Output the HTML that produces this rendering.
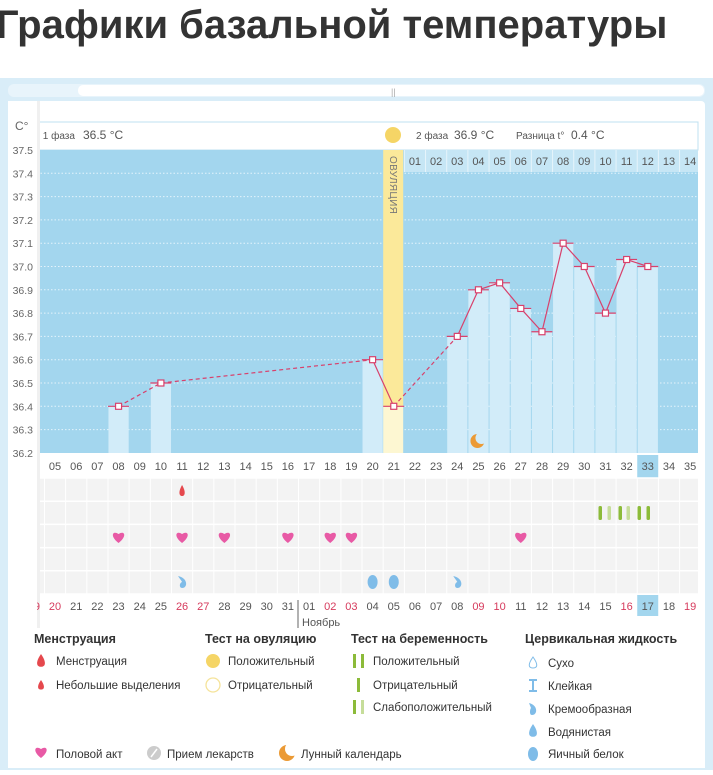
<!DOCTYPE html>
<html><head><meta charset="utf-8"><style>
body{margin:0;width:713px;height:770px;overflow:hidden;background:#fff;font-family:"Liberation Sans","DejaVu Sans",sans-serif;}
</style></head><body>
<svg width="713" height="770" xmlns="http://www.w3.org/2000/svg" font-family="Liberation Sans, DejaVu Sans, sans-serif">
<text x="-4" y="38" font-size="40" font-weight="bold" fill="#333">Графики базальной температуры</text>
<rect x="0" y="78" width="713" height="692" fill="#d9edf8"/>
<rect x="8" y="84" width="697" height="13" rx="6" fill="#e8f4fb"/>
<rect x="78" y="85" width="626" height="11" rx="5" fill="#fff"/>
<text x="391" y="95" font-size="9" fill="#aaa">||</text>
<rect x="8" y="101" width="697" height="666" rx="4" fill="#fff"/>
<rect x="37" y="122" width="661" height="28" fill="#fff" stroke="#bfe0f0"/>
<text x="36" y="139" font-size="10" fill="#555">° 1 фаза</text>
<text x="83" y="139" font-size="12" fill="#555">36.5 °C</text>
<text x="416" y="139" font-size="10" fill="#555">2 фаза</text>
<text x="454" y="139" font-size="12" fill="#555">36.9 °C</text>
<text x="516" y="139" font-size="10" fill="#555">Разница t°</text>
<text x="571" y="139" font-size="12" fill="#555">0.4 °C</text>
<circle cx="393" cy="135" r="8" fill="#f5d566"/>
<rect x="37" y="150" width="661" height="303" fill="#a3d6ee"/>
<rect x="404" y="150" width="294" height="22" fill="#c6e6f5"/>
</svg>
<script>
const s=document.querySelector('svg');const NS='http://www.w3.org/2000/svg';
function el(t,a,txt){const e=document.createElementNS(NS,t);for(const k in a)e.setAttribute(k,a[k]);if(txt!==undefined)e.textContent=txt;s.appendChild(e);return e;}
const L=d=>446.7-(24-d)*21.17, C=d=>L(d)+10.58, Y=v=>150+(37.5-v)*233;
for(let i=1;i<13;i++){el('line',{x1:37,x2:698,y1:150+i*23.3,y2:150+i*23.3,stroke:'#e4f3fb','stroke-dasharray':'1.5 2','stroke-width':1});}
for(let d=22;d<=35;d++){el('line',{x1:L(d),x2:L(d),y1:150,y2:172,stroke:'#e6f4fb'});el('text',{x:C(d),y:165,'font-size':11,'text-anchor':'middle',fill:'#555'},String(d-21).padStart(2,'0'));}
const data={8:36.4,10:36.5,20:36.6,21:36.4,24:36.7,25:36.9,26:36.93,27:36.82,28:36.72,29:37.1,30:37.0,31:36.8,32:37.03,33:37.0};
for(const d in data){if(d==21)continue;el('rect',{x:L(+d)+0.5,y:Y(data[d]),width:20.2,height:453-Y(data[d]),fill:'#d2ecf9'});}
el('rect',{x:L(21),y:150,width:20,height:Y(36.4)-150,fill:'#fbe99a'});
el('rect',{x:L(21),y:Y(36.4),width:20,height:453-Y(36.4),fill:'#fdf7d2'});
el('text',{x:0,y:0,'font-size':10,fill:'#777',transform:`translate(${C(21)-4},156) rotate(90)`,'letter-spacing':'0.3'},'ОВУЛЯЦИЯ');
const ds=Object.keys(data).map(Number);
for(let i=0;i<ds.length-1;i++){const a=ds[i],b=ds[i+1];el('line',{x1:C(a),y1:Y(data[a]),x2:C(b),y2:Y(data[b]),stroke:'#d8416c','stroke-width':1.2,'stroke-dasharray':b-a>1?'4 3':''});}
for(const d of ds){el('line',{x1:L(d),x2:L(d)+21,y1:Y(data[d]),y2:Y(data[d]),stroke:'#d8416c','stroke-width':1.2});el('rect',{x:C(d)-3,y:Y(data[d])-3,width:6,height:6,fill:'#fff',stroke:'#d8416c','stroke-width':1.2});}
el('circle',{cx:C(25)-1,cy:441,r:7,fill:'#eb9a35'});el('circle',{cx:C(25)+3,cy:438,r:6,fill:'#d2ecf9'});
el('rect',{x:L(33),y:455,width:21,height:23,fill:'#a3d6ee'});
for(let d=4;d<=35;d++){el('text',{x:C(d),y:470,'font-size':11,'text-anchor':'middle',fill:'#555'},String(d).padStart(2,'0'));}
el('rect',{x:8,y:101,width:29,height:528,fill:'#fff'});
el('rect',{x:37,y:101,width:3,height:528,fill:'#f0f0f0'});
el('text',{x:15,y:130,'font-size':12,fill:'#666'},'C°');
for(let i=0;i<=13;i++){el('text',{x:33,y:150+i*23.3+4,'font-size':10.5,'text-anchor':'end',fill:'#666'},(37.5-i/10).toFixed(1));}
el('rect',{x:40,y:478,width:658,height:116,fill:'#f3f3f3'});
for(let d=5;d<=35;d++)el('line',{x1:L(d),x2:L(d),y1:478,y2:594,stroke:'#fff','stroke-width':1});
for(let r=0;r<=5;r++)el('line',{x1:40,x2:698,y1:478+r*23.2,y2:478+r*23.2,stroke:'#fff','stroke-width':1.5});
function heart(x,y,c){el('path',{d:`M${x} ${y+6} C${x-9} ${y-1} ${x-6} ${y-7} ${x} ${y-3} C${x+6} ${y-7} ${x+9} ${y-1} ${x} ${y+6}Z`,fill:c});}
for(const d of [8,11,13,16,18,19,27])heart(C(d),537,'#e85aa5');
el('path',{d:`M${C(11)} 485 C${C(11)-4} 492 ${C(11)-3} 496 ${C(11)} 496 C${C(11)+3} 496 ${C(11)+4} 492 ${C(11)} 485Z`,fill:'#e5484d'});
const pt=[[600,'#8cbb3a'],[609,'#c6dd9a'],[620,'#8cbb3a'],[628,'#c6dd9a'],[639,'#8cbb3a'],[648,'#8cbb3a']];
for(const [x,c] of pt)el('rect',{x:x-1.5,y:506,width:3.5,height:14,rx:1.5,fill:c});
for(const d of [20,21])el('ellipse',{cx:C(d),cy:582,rx:5,ry:7,fill:'#7fbce8'});
for(const d of [11,24]){el('path',{d:`M${C(d)-4} 576 C${C(d)+6} 578 ${C(d)+6} 588 ${C(d)} 588 C${C(d)-3} 588 ${C(d)-3} 583 ${C(d)} 582 C${C(d)-1} 580 ${C(d)-3} 578 ${C(d)-4} 576Z`,fill:'#7fbce8'});}
el('rect',{x:L(33),y:595,width:21,height:21,fill:'#a3d6ee'});
const red=new Set([19,20,26,27,2,3,9,10,16]);
for(let d=4;d<=35;d++){let n=d<=16?d+15:d-16;el('text',{x:C(d),y:610,'font-size':11,'text-anchor':'middle',fill:red.has(n)&&!(d==33)?'#d63a5c':'#555'},String(n).padStart(2,'0'));}
el('line',{x1:298,x2:298,y1:600,y2:628,stroke:'#666'});
el('text',{x:302,y:626,'font-size':11,fill:'#555'},'Ноябрь');
el('rect',{x:8,y:595,width:29,height:34,fill:'#fff'});
el('rect',{x:8,y:628,width:697,height:140,fill:'#fff'});
const T=(x,y,t,b)=>el('text',{x,y,'font-size':b?12.5:11.5,'font-weight':b?'bold':'normal',fill:'#333'},t);
T(34,643,'Менструация',1);T(205,643,'Тест на овуляцию',1);T(351,643,'Тест на беременность',1);T(525,643,'Цервикальная жидкость',1);
function drop(x,y,h,c){el('path',{d:`M${x} ${y-h} C${x-h*0.7} ${y} ${x-h*0.6} ${y+h*0.6} ${x} ${y+h*0.6} C${x+h*0.6} ${y+h*0.6} ${x+h*0.7} ${y} ${x} ${y-h}Z`,fill:c});}
drop(41,662,8,'#e5484d');T(56,665,'Менструация');
drop(41,686,6,'#e5484d');T(56,689,'Небольшие выделения');
el('circle',{cx:213,cy:661,r:7,fill:'#f5d566'});T(228,665,'Положительный');
el('circle',{cx:213,cy:685,r:7,fill:'#fff',stroke:'#f5e39a','stroke-width':1.3});T(228,689,'Отрицательный');
el('rect',{x:353,y:654,width:3,height:14,fill:'#8cbb3a'});el('rect',{x:361,y:654,width:3,height:14,fill:'#8cbb3a'});T(373,665,'Положительный');
el('rect',{x:357,y:678,width:3,height:14,fill:'#8cbb3a'});T(373,689,'Отрицательный');
el('rect',{x:353,y:700,width:3,height:14,fill:'#8cbb3a'});el('rect',{x:361,y:700,width:3,height:14,fill:'#c6dd9a'});T(373,711,'Слабоположительный');
el('path',{d:'M533 657 C528 664 528 668 533 668 C538 668 538 664 533 657Z',fill:'#fff',stroke:'#7fbce8'});T(548,667,'Сухо');
el('path',{d:'M529 680 H537 M529 691 H537 M533 680 V691',stroke:'#7fbce8','stroke-width':2});T(548,690,'Клейкая');
el('path',{d:'M529 703 C538 705 538 715 532 715 C529 715 530 709 531 708Z',fill:'#7fbce8'});T(548,713,'Кремообразная');
drop(533,732,8,'#7fbce8');T(548,736,'Водянистая');
el('ellipse',{cx:533,cy:754,rx:5,ry:7,fill:'#7fbce8'});T(548,758,'Яичный белок');
heart(41,752,'#e85aa5');T(56,758,'Половой акт');
el('circle',{cx:154,cy:753,r:7,fill:'#ccc'});el('line',{x1:151,y1:757,x2:157,y2:749,stroke:'#fff','stroke-width':1.5});T(167,758,'Прием лекарств');
el('circle',{cx:287,cy:753,r:8,fill:'#eb9a35'});el('circle',{cx:292,cy:749,r:7,fill:'#fff'});T(301,758,'Лунный календарь');
</script>
</body></html>
